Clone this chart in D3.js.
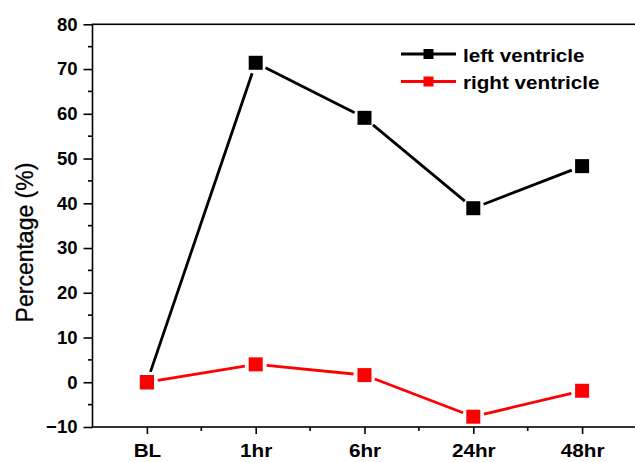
<!DOCTYPE html>
<html><head><meta charset="utf-8">
<script src="https://cdn.jsdelivr.net/npm/d3@7"></script>
<style>html,body{margin:0;padding:0;background:#fff;}svg{display:block;}</style>
</head><body>
<script>
const categories = ["BL", "1hr", "6hr", "24hr", "48hr"];
const leftVentricle = [0, 71.4, 59.1, 38.9, 48.3];
const rightVentricle = [0, 4.0, 1.6, -7.7, -1.9];
const yTicks = [-10, 0, 10, 20, 30, 40, 50, 60, 70, 80];
const seriesNames = ["left ventricle", "right ventricle"];
const seriesColors = ["#000000", "#ff0000"];

const W = 635, H = 462;
const margin = {left: 92.5, top: 24.3, right: 636.5, bottom: 427};
const svg = d3.select("body").append("svg").attr("width", W).attr("height", H);

const x = d3.scalePoint().domain(categories).range([margin.left, margin.right]).padding(0.5);
const y = d3.scaleLinear().domain([-10, 80]).range([margin.bottom, margin.top]);
const font = "'Liberation Sans', Arial, sans-serif";

// frame
svg.append("rect").attr("x", margin.left).attr("y", margin.top)
  .attr("width", margin.right - margin.left).attr("height", margin.bottom - margin.top)
  .attr("fill", "none").attr("stroke", "#000").attr("stroke-width", 1.6);

// y axis
const yAxis = d3.axisLeft(y).tickValues(yTicks).tickSize(9).tickPadding(6).tickFormat(d3.format("d"));
const gy = svg.append("g").attr("transform", `translate(${margin.left},0)`).call(yAxis);
gy.select(".domain").remove();
gy.selectAll("line").attr("stroke-width", 1.6);
gy.selectAll("text").attr("font-family", font).attr("font-weight", "bold").attr("font-size", 18.5).attr("fill", "#000");
// y minor ticks
const yMinor = yTicks.slice(0, -1).map(v => v + 5);
svg.append("g").selectAll("line").data(yMinor).join("line")
  .attr("x1", margin.left - 4.5).attr("x2", margin.left).attr("y1", d => y(d)).attr("y2", d => y(d))
  .attr("stroke", "#000").attr("stroke-width", 1.6);

// x axis
const xAxis = d3.axisBottom(x).tickSize(7).tickPadding(10);
const gx = svg.append("g").attr("transform", `translate(0,${margin.bottom})`).call(xAxis);
gx.select(".domain").remove();
gx.selectAll("line").attr("stroke-width", 1.6);
gx.selectAll("text").attr("font-family", font).attr("font-weight", "bold").attr("font-size", 18)
  .attr("fill", "#000").attr("transform", "scale(1.15,1)");
// x minor ticks
const step = x.step();
const xMinor = categories.slice(0, -1).map(c => x(c) + step / 2);
svg.append("g").selectAll("line").data(xMinor).join("line")
  .attr("x1", d => d).attr("x2", d => d).attr("y1", margin.bottom).attr("y2", margin.bottom + 4)
  .attr("stroke", "#000").attr("stroke-width", 1.6);

// y label
svg.append("text").attr("transform", `translate(33,242.5) rotate(-90)`)
  .attr("text-anchor", "middle").attr("font-family", font).attr("font-size", 23).attr("fill", "#000")
  .attr("stroke", "#000").attr("stroke-width", 0.3)
  .text("Percentage (%)");

// series
const allSeries = [leftVentricle, rightVentricle];
const gap = 11;
allSeries.forEach((vals, si) => {
  const pts = vals.map((v, i) => [x(categories[i]), y(v)]);
  const segs = d3.pairs(pts).map(([a, b]) => {
    const dx = b[0] - a[0], dy = b[1] - a[1], L = Math.hypot(dx, dy);
    const ux = dx / L, uy = dy / L;
    return [[a[0] + ux * gap, a[1] + uy * gap], [b[0] - ux * gap, b[1] - uy * gap]];
  });
  const g = svg.append("g");
  g.selectAll("line").data(segs).join("line")
    .attr("x1", d => d[0][0]).attr("y1", d => d[0][1]).attr("x2", d => d[1][0]).attr("y2", d => d[1][1])
    .attr("stroke", seriesColors[si]).attr("stroke-width", 2.8);
  g.selectAll("rect").data(pts).join("rect")
    .attr("x", d => d[0] - 7).attr("y", d => d[1] - 7).attr("width", 14).attr("height", 14)
    .attr("fill", seriesColors[si]);
});

// legend
const legend = svg.append("g");
seriesNames.forEach((name, i) => {
  const ly = 54 + i * 27.5;
  legend.append("line").attr("x1", 401).attr("x2", 456).attr("y1", ly).attr("y2", ly)
    .attr("stroke", seriesColors[i]).attr("stroke-width", 2.8);
  legend.append("rect").attr("x", 428.5 - 5).attr("y", ly - 5).attr("width", 10).attr("height", 10)
    .attr("fill", seriesColors[i]);
  legend.append("text").attr("transform", `translate(463,${ly + 7.5}) scale(1.18,1)`).attr("font-family", font)
    .attr("font-weight", "bold").attr("font-size", 17.5).attr("fill", "#000").text(name);
});
</script>
</body></html>
